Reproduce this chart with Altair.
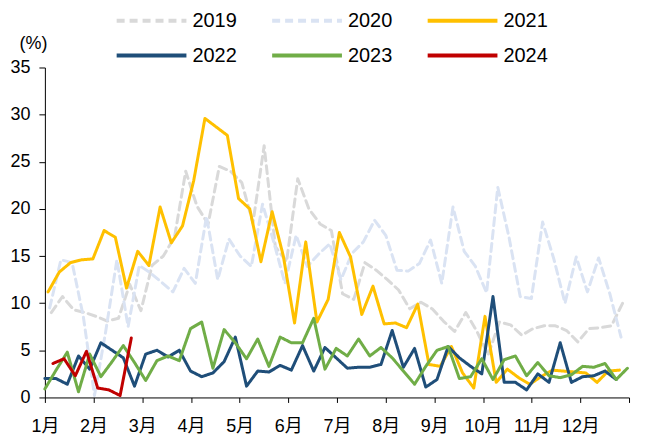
import altair as alt
import pandas as pd

years = ["2019", "2020", "2021", "2022", "2023", "2024"]
# day of year (0-based) of each year's first weekly reading
start_day = [4, 3, 2, 0, 0, 5]

v2019 = [9.0, 10.7, 9.3, 9.0, 8.6, 8.1, 8.4, 12.0, 9.2, 14.0, 15.0, 17.0, 24.0, 20.3, 18.4, 24.5,
         24.0, 22.8, 18.5, 26.7, 16.0, 14.4, 23.2, 20.0, 18.4, 17.7, 11.0, 10.4, 14.3, 13.5, 12.5,
         11.4, 9.4, 10.1, 9.4, 8.1, 7.0, 9.0, 7.0, 4.5, 8.0, 7.7, 6.6, 7.3, 7.6, 7.6, 7.1, 5.9,
         7.3, 7.4, 7.6, 10.0]
v2020 = [9.5, 14.6, 14.3, 8.6, 0.2, 7.0, 14.6, 7.5, 14.0, 13.2, 12.2, 11.2, 13.7, 12.1, 19.2, 12.5,
         16.8, 15.0, 13.9, 20.5, 16.5, 12.1, 17.2, 13.9, 15.2, 16.3, 12.5, 15.3, 16.5, 18.8, 17.2,
         13.5, 13.4, 14.2, 16.7, 12.1, 20.2, 15.5, 13.9, 11.1, 22.3, 17.0, 10.7, 10.5, 18.6, 14.7,
         10.0, 14.9, 11.2, 14.8, 11.0, 6.4]
v2021 = [11.2, 13.3, 14.3, 14.6, 14.7, 17.7, 17.0, 11.6, 15.5, 14.0, 20.2, 16.4, 18.2, 23.0, 29.6,
         28.7, 27.8, 21.1, 20.0, 14.4, 19.7, 15.0, 7.9, 16.5, 8.0, 10.4, 17.5, 14.9, 8.8, 11.8, 7.8,
         7.9, 7.4, 9.9, 3.5, 3.3, 5.4, 2.6, 1.0, 8.6, 1.6, 3.0, 2.1, 1.4, 2.2, 2.9, 2.8, 2.7, 2.6,
         1.6, 2.8, 2.9]
v2022 = [2.0, 2.0, 1.4, 4.4, 3.0, 5.8, 5.0, 4.2, 1.2, 4.6, 5.0, 4.3, 5.0, 2.8, 2.2, 2.6, 3.8, 6.4,
         1.2, 2.8, 2.7, 3.4, 2.9, 5.5, 2.8, 5.3, 4.2, 3.1, 3.2, 3.2, 3.5, 7.1, 3.2, 5.2, 1.1, 1.9,
         5.4, 4.2, 3.3, 2.5, 10.7, 1.6, 1.6, 0.8, 2.5, 1.6, 5.8, 1.6, 2.2, 2.3, 2.8, 1.9]
v2023 = [0.9, 2.9, 4.8, 0.6, 4.6, 2.2, 3.8, 5.5, 3.7, 1.8, 3.9, 4.4, 3.9, 7.3, 8.0, 3.1, 7.2, 5.8,
         4.1, 6.2, 3.3, 6.4, 5.8, 5.8, 8.4, 3.0, 5.2, 4.4, 6.2, 4.4, 5.3, 4.2, 2.8, 1.4, 3.3, 5.0,
         5.4, 2.0, 2.2, 4.1, 1.9, 4.0, 4.4, 2.3, 3.7, 2.3, 2.1, 2.4, 3.3, 3.2, 3.6, 1.9, 3.1]
v2024 = [3.6, 4.1, 2.3, 4.9, 1.0, 0.8, 0.2, 6.3]
series = [v2019, v2020, v2021, v2022, v2023, v2024]

colors = ["#d9d9d9", "#dae3f3", "#ffc000", "#1f4e79", "#70ad47", "#c00000"]
dashes = [[8, 5], [8, 5], [1, 0], [1, 0], [1, 0], [1, 0]]
month_labels = ["1月", "2月", "3月", "4月", "5月", "6月", "7月", "8月", "9月", "10月", "11月", "12月"]

rows = []
for yr, sd, vals in zip(years, start_day, series):
    for i, v in enumerate(vals):
        rows.append({"year": yr, "month": (sd + 7 * i) / (365 / 12), "value": v})
df = pd.DataFrame(rows)

FONT = "Liberation Sans, Noto Sans CJK SC, sans-serif"
label_arr = "[" + ",".join("'" + m + "'" for m in month_labels) + ",'']"

legend = alt.Legend(
    title=None, orient="none", direction="horizontal", legendX=70, legendY=-57, columns=3,
    symbolType="stroke", symbolSize=4900, symbolStrokeWidth=4, clipHeight=20,
    labelFontSize=20, labelFont=FONT, labelColor="#000000", labelOffset=4,
    columnPadding=33, rowPadding=15,
)

chart = alt.Chart(df).mark_line(strokeWidth=3, strokeCap="round", strokeJoin="round").encode(
    x=alt.X("month:Q", scale=alt.Scale(domain=[0, 12], nice=False, zero=False),
            axis=alt.Axis(values=list(range(13)), labelExpr=label_arr + "[datum.value]",
                          title=None, grid=False, tickSize=5, labelPadding=15,
                          labelFontSize=18, labelFont=FONT, labelColor="#000000",
                          domainColor="#000000", tickColor="#000000", labelFlush=False)),
    y=alt.Y("value:Q", scale=alt.Scale(domain=[0, 35], nice=False),
            axis=alt.Axis(values=list(range(0, 40, 5)), title="(%)", titleAngle=0,
                          titleX=-12, titleY=-24, titleAlign="center", titleBaseline="middle",
                          titleFontWeight="normal", titleFontSize=18, titleFont=FONT,
                          titleColor="#000000", grid=False, tickSize=6, labelPadding=9,
                          labelFontSize=18, labelFont=FONT, labelColor="#000000",
                          domainColor="#000000", tickColor="#000000")),
    color=alt.Color("year:N", scale=alt.Scale(domain=years, range=colors), legend=legend),
    strokeDash=alt.StrokeDash("year:N", scale=alt.Scale(domain=years, range=dashes), legend=legend),
    order=alt.Order("month:Q"),
).properties(
    width=586, height=331,
    padding={"left": 37, "top": 59, "right": 8, "bottom": 40},
    autosize=alt.AutoSizeParams(type="none"),
).configure_view(stroke=None)

chart.save("out.html", embed_options={"renderer": "svg", "actions": False})
